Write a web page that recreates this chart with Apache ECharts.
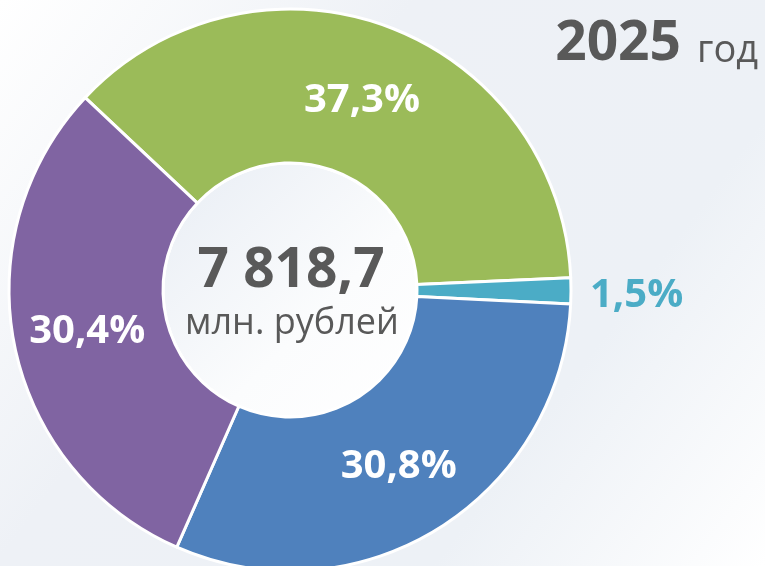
<!DOCTYPE html>
<html>
<head>
<meta charset="utf-8">
<script src="https://cdn.jsdelivr.net/npm/echarts@6/dist/echarts.min.js"></script>
<style>
  html, body { margin: 0; padding: 0; }
  #chart { width: 765px; height: 566px; }
</style>
</head>
<body>
<div id="chart"></div>
<script>
// доли структуры, %
const categories = ['Группа 1', 'Группа 2', 'Группа 3', 'Группа 4']
const shares = [37.3, 1.5, 30.8, 30.4]
const colors = ['#9BBB59', '#4BACC6', '#4F81BD', '#8064A2']
const totalText = '7 818,7'
const unitText = 'млн. рублей'
const yearText = '2025'
const yearSuffix = 'год'

const font = '"Open Sans", "Noto Sans", sans-serif'
const chart = echarts.init(document.getElementById('chart'))

const pieData = shares.map((v, i) => {
  const item = {
    value: v,
    name: categories[i],
    itemStyle: { color: colors[i] }
  }
  // маленький сектор подписываем снаружи
  if (v < 5) {
    item.label = {
      position: 'outside',
      color: colors[i],
      offset: [0, 5]
    }
    item.labelLine = { show: false, length: 14, length2: 0 }
  } else if (i === 0) {
    item.label = { offset: [0, 5] }
  }
  return item
})

chart.setOption({
  backgroundColor: {
    type: 'linear',
    x: 0, y: 0, x2: 1, y2: 1,
    colorStops: [
      { offset: 0, color: '#ffffff' },
      { offset: 0.35, color: '#eef1f6' },
      { offset: 0.72, color: '#edf1f6' },
      { offset: 1, color: '#ffffff' }
    ]
  },
  graphic: [
    {
      type: 'circle',
      z: 1,
      shape: { cx: 290, cy: 290, r: 127 },
      style: {
        fill: {
          type: 'linear',
          x: 0, y: 0, x2: 1, y2: 1,
          colorStops: [
            { offset: 0, color: '#e8edf4' },
            { offset: 0.6, color: '#fbfcfd' },
            { offset: 1, color: '#ffffff' }
          ]
        },
        stroke: '#ffffff',
        lineWidth: 3
      }
    },
    {
      type: 'text',
      z: 10,
      x: 291,
      y: 271,
      style: {
        text: totalText,
        font: 'bold 55px ' + font,
        fill: '#595959',
        textAlign: 'center',
        textVerticalAlign: 'middle'
      }
    },
    {
      type: 'text',
      z: 10,
      x: 292,
      y: 324,
      style: {
        text: unitText,
        font: '36px ' + font,
        fill: '#595959',
        textAlign: 'center',
        textVerticalAlign: 'middle'
      }
    },
    {
      type: 'text',
      z: 10,
      x: 681,
      y: 44,
      style: {
        text: yearText,
        font: 'bold 55px ' + font,
        fill: '#595959',
        textAlign: 'right',
        textVerticalAlign: 'middle'
      }
    },
    {
      type: 'text',
      z: 10,
      x: 697,
      y: 51,
      style: {
        text: yearSuffix,
        font: '38px ' + font,
        fill: '#595959',
        textAlign: 'left',
        textVerticalAlign: 'middle'
      }
    }
  ],
  series: [
    {
      type: 'pie',
      center: [290, 290],
      radius: [127, 281],
      startAngle: 136.8,
      clockwise: true,
      avoidLabelOverlap: false,
      silent: true,
      itemStyle: {
        borderColor: '#ffffff',
        borderWidth: 3
      },
      label: {
        show: true,
        position: 'inside',
        formatter: p => p.value.toFixed(1).replace('.', ',') + '%',
        color: '#ffffff',
        fontFamily: font,
        fontWeight: 'bold',
        fontSize: 40
      },
      labelLine: { show: false },
      data: pieData
    }
  ]
})
</script>
</body>
</html>
